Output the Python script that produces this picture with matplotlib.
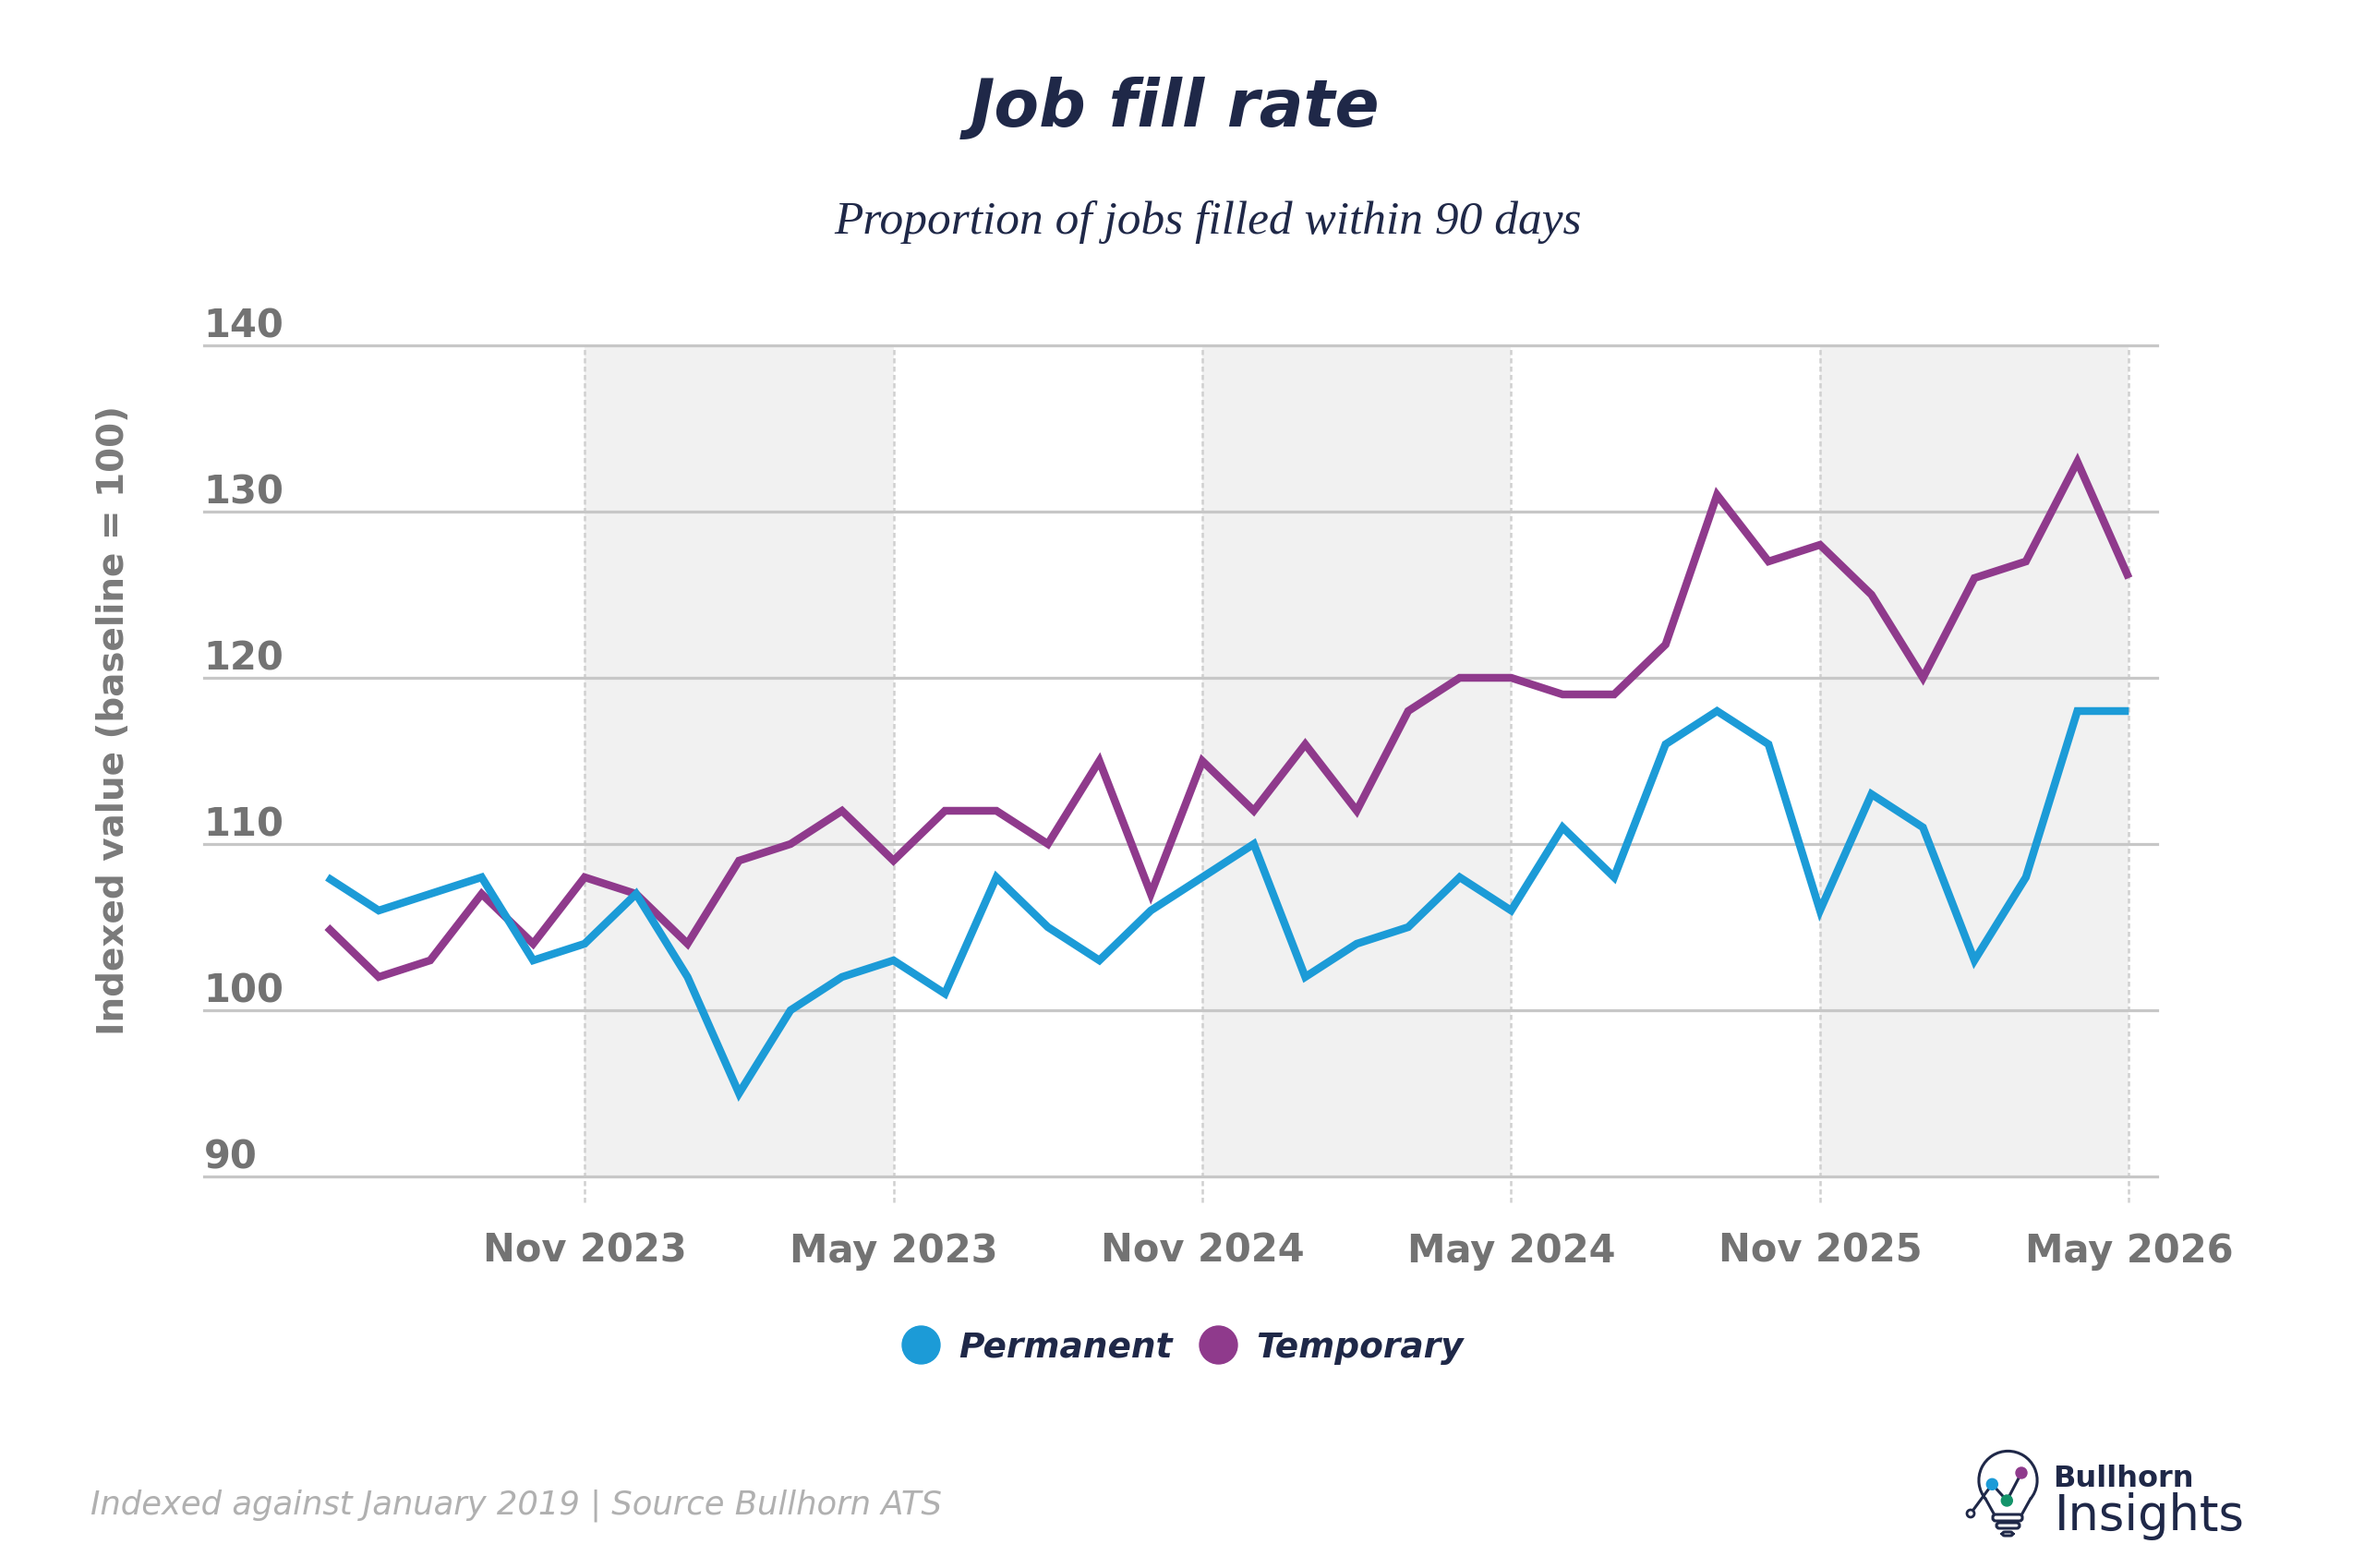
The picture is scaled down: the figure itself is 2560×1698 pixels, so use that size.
import numpy as np
import matplotlib.pyplot as plt
from matplotlib.lines import Line2D
from matplotlib.patches import Arc, Circle, FancyBboxPatch

# Datos (índice mensual, base = 100)
months = np.arange(36)
permanent = [108, 106, 107, 108, 103, 104, 107, 102, 95, 100, 102, 103,
             101, 108, 105, 103, 106, 108, 110, 102, 104, 105, 108, 106,
             111, 108, 116, 118, 116, 106, 113, 111, 103, 108, 118, 118]
temporary = [105, 102, 103, 107, 104, 108, 107, 104, 109, 110, 112, 109,
             112, 112, 110, 115, 107, 115, 112, 116, 112, 118, 120, 120,
             119, 119, 122, 131, 127, 128, 125, 120, 126, 127, 133, 126]
tick_pos = [5, 11, 17, 23, 29, 35]
tick_labels = ["Nov 2023", "May 2023", "Nov 2024", "May 2024", "Nov 2025", "May 2026"]
y_ticks = [90, 100, 110, 120, 130, 140]

BLUE = "#1c9bd7"
PURPLE = "#8f3a8c"
NAVY = "#1f2848"
GRAY = "#737373"
GRID = "#c7c7c7"
SANS = ["DejaVu Sans"]

W, H = 2560, 1699
fig = plt.figure(figsize=(W / 100, H / 100), dpi=100)
ax = fig.add_axes([220.6 / W, 1 - 1275 / H, (2336 - 220.6) / W, 900 / H])

# bandas grises cada 6 meses
for k in range(0, len(tick_pos) - 1, 2):
    ax.axvspan(tick_pos[k], tick_pos[k + 1], color="#f1f1f1", lw=0, zorder=0)

for t in tick_pos:
    ax.axvline(t, ymin=-0.031, ymax=1, color="#d0d0d0", lw=1.8, dashes=(2.2, 1.4),
               clip_on=False, zorder=1)

for v in y_ticks:
    ax.axhline(v, color=GRID, lw=2.3, clip_on=False, zorder=1)
    ax.annotate(str(v), xy=(0, v), xycoords=("axes fraction", "data"),
                xytext=(0, 6.5), textcoords="offset points", ha="left",
                va="baseline", fontsize=30, fontweight="bold", color=GRAY,
                family=SANS)

ax.plot(months, temporary, color=PURPLE, lw=6.1, solid_joinstyle="miter",
        solid_capstyle="butt", zorder=3)
ax.plot(months, permanent, color=BLUE, lw=6.1, solid_joinstyle="miter",
        solid_capstyle="butt", zorder=3)

for t, lab in zip(tick_pos, tick_labels):
    ax.annotate(lab, xy=(t, 0), xycoords=("data", "axes fraction"),
                xytext=(0, -66), textcoords="offset points", ha="center",
                va="baseline", fontsize=30, fontweight="bold", color=GRAY,
                family=SANS)

ax.set_xlim(-2.4, 35.55)
ax.set_ylim(90, 140)
ax.set_xticks([])
ax.set_yticks([])
for s in ax.spines.values():
    s.set_visible(False)

# textos
fig.text(0.497, 1 - 137 / H, "Job fill rate", ha="center", va="baseline",
         fontsize=51, fontweight="bold", style="italic", color=NAVY, family=SANS)
fig.text(0.511, 1 - 253 / H, "Proportion of jobs filled within 90 days",
         ha="center", va="baseline", fontsize=37, style="italic", color=NAVY,
         family=["Liberation Serif"])
fig.text(123 / W, 1 - 780 / H, "Indexed value (baseline = 100)", rotation=90,
         ha="center", va="center", fontsize=28, fontweight="bold",
         color="#7a7a7a", family=SANS)
fig.text(98 / W, 1 - 1640 / H, "Indexed against January 2019 | Source Bullhorn ATS",
         ha="left", va="baseline", fontsize=25.5, style="italic", color="#b0b0b0",
         family=SANS)

handles = [Line2D([], [], ls="none", marker="o", ms=29.5, color=BLUE, label="Permanent"),
           Line2D([], [], ls="none", marker="o", ms=29.5, color=PURPLE, label="Temporary")]
fig.legend(handles=handles, loc="center", bbox_to_anchor=(0.5006, 1 - 1460 / H),
           ncol=2, frameon=False, handlelength=1.0, handletextpad=0.6,
           columnspacing=0.8,
           prop={"family": SANS, "weight": "bold", "style": "italic", "size": 27},
           labelcolor=NAVY)

# logo Bullhorn Insights
lg = fig.add_axes([2120 / W, 29 / H, 350 / W, 105 / H])
lg.set_xlim(2120, 2470)
lg.set_ylim(29, 134)
lg.axis("off")
cx, cy, r = 2174.5, 95, 31.6
lg.add_patch(Arc((cx, cy), 2 * r, 2 * r, theta1=-40, theta2=220, color=NAVY, lw=2.2))
a1, a2 = np.radians(-40), np.radians(220)
lg.plot([cx + r * np.cos(a1), 2190], [cy + r * np.sin(a1), 59], color=NAVY, lw=2.2)
lg.plot([cx + r * np.cos(a2), 2159], [cy + r * np.sin(a2), 59], color=NAVY, lw=2.2)
for x0, y0, w, h in [(2158, 51, 32, 7), (2162, 43, 25, 6), (2168, 35, 12, 4)]:
    lg.add_patch(FancyBboxPatch((x0, y0), w, h, boxstyle="round,pad=0,rounding_size=3",
                                fc="white", ec=NAVY, lw=2.2))
lg.plot([2134, 2157.3, 2173.3, 2189], [59, 90.7, 73, 103], color=NAVY, lw=2.2)
lg.add_patch(Circle((2134, 59), 4, fc="white", ec=NAVY, lw=2, zorder=4))
lg.add_patch(Circle((2157.3, 90.7), 6, color=BLUE, zorder=4))
lg.add_patch(Circle((2173.3, 73), 6, color="#14946a", zorder=4))
lg.add_patch(Circle((2189, 103), 6, color=PURPLE, zorder=4))
fig.text(2223 / W, 1 - 1610 / H, "Bullhorn", ha="left", va="baseline",
         fontsize=23, fontweight="bold", color=NAVY, family=SANS)
fig.text(2225 / W, 1 - 1657 / H, "Insights", ha="left", va="baseline",
         fontsize=38, fontweight="normal", color=NAVY, family=SANS)

fig.savefig("out.png", dpi=100)
